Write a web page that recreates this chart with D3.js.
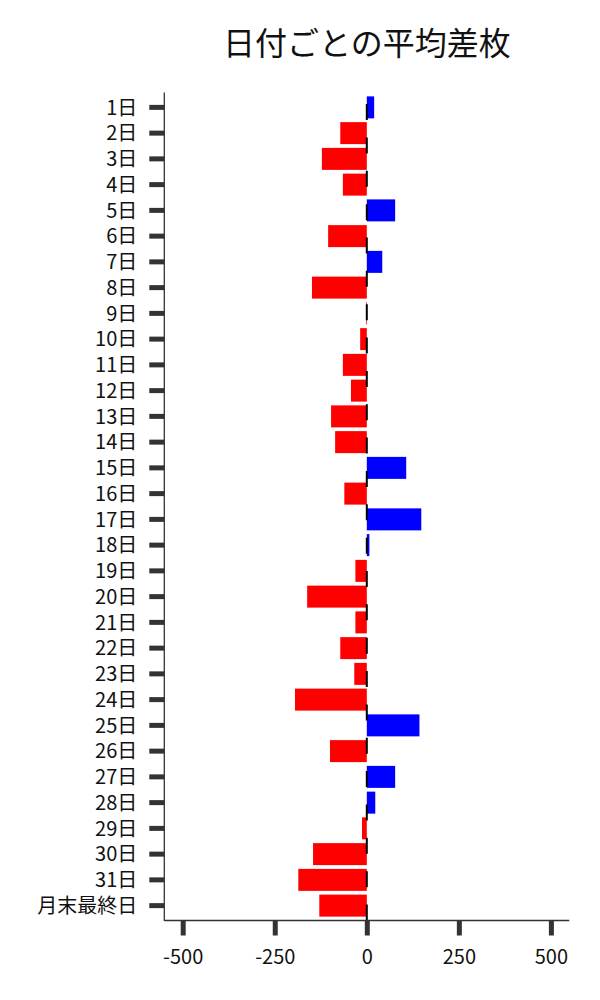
<!DOCTYPE html>
<html>
<head>
<meta charset="utf-8">
<script src="https://cdn.jsdelivr.net/npm/d3@7"></script>
<style>
  body { margin: 0; background: #fff; }
  text { font-family: "Noto Sans CJK JP", "Noto Sans", sans-serif; }
</style>
</head>
<body>
<script>
var days = ["1日", "2日", "3日", "4日", "5日", "6日", "7日", "8日", "9日", "10日",
            "11日", "12日", "13日", "14日", "15日", "16日", "17日", "18日", "19日", "20日",
            "21日", "22日", "23日", "24日", "25日", "26日", "27日", "28日", "29日", "30日",
            "31日", "月末最終日"];
var diffs = [20, -72, -122, -65, 77, -105, 42, -149, -2, -18,
             -65, -43, -97, -86, 107, -61, 148, 7, -31, -162,
             -31, -72, -34, -195, 143, -100, 77, 23, -13, -146,
             -186, -129];
var xTicks = [-500, -250, 0, 250, 500];

var w = 600, h = 1000;
var plotLeft = 164.3, plotRight = 569.3, plotTop = 92.5, plotBottom = 920.5;

var svg = d3.select("body")
            .append("svg")
            .attr("width", w)
            .attr("height", h);

var x = d3.scaleLinear().domain([-550, 550]).range([plotLeft, plotRight]);
var y = d3.scaleBand().domain(days).range([94.5, 918.5])
          .paddingInner(0.146).paddingOuter(0.073);

// bars
svg.selectAll("rect.bar")
    .data(days)
    .enter()
    .append("rect")
    .attr("class", "bar")
    .attr("x", function(d, i) { return x(Math.min(0, diffs[i])); })
    .attr("width", function(d, i) { return Math.abs(x(diffs[i]) - x(0)); })
    .attr("y", function(d) { return y(d); })
    .attr("height", y.bandwidth())
    .style("fill", function(d, i) { return diffs[i] >= 0 ? "#0000ff" : "#ff0000"; });

// dashed zero line, drawn bottom to top
svg.append("line")
    .attr("x1", x(0)).attr("x2", x(0))
    .attr("y1", plotBottom).attr("y2", plotTop)
    .attr("stroke", "#000")
    .attr("stroke-width", 2)
    .attr("stroke-dasharray", "16,17.35");

// y axis
var yAxis = svg.append("g")
    .attr("transform", "translate(" + plotLeft + ",0)")
    .call(d3.axisLeft(y).tickSize(15).tickPadding(12));
yAxis.select(".domain").remove();
yAxis.selectAll(".tick line").attr("stroke", "#333").attr("stroke-width", 5);
yAxis.selectAll(".tick text")
    .attr("fill", "#111")
    .style("font-size", "20px")
    .attr("dy", "0.36em");

// x axis
var xAxis = svg.append("g")
    .attr("transform", "translate(0," + plotBottom + ")")
    .call(d3.axisBottom(x).tickValues(xTicks).tickSize(15).tickPadding(14)
            .tickFormat(d3.format("d")));
xAxis.select(".domain").remove();
xAxis.selectAll(".tick line").attr("stroke", "#333").attr("stroke-width", 5);
xAxis.selectAll(".tick text")
    .attr("fill", "#111")
    .style("font-size", "20px")
    .text(function(d) { return d < 0 ? "-" + Math.abs(d) : d; });

// spines
svg.append("line")
    .attr("x1", plotLeft).attr("x2", plotLeft)
    .attr("y1", plotTop).attr("y2", plotBottom + 0.6)
    .attr("stroke", "#333").attr("stroke-width", 1.3);
svg.append("line")
    .attr("x1", plotLeft).attr("x2", plotRight)
    .attr("y1", plotBottom).attr("y2", plotBottom)
    .attr("stroke", "#333").attr("stroke-width", 1.3);

// title
svg.append("text")
    .attr("x", (plotLeft + plotRight) / 2)
    .attr("y", 55)
    .attr("text-anchor", "middle")
    .style("font-size", "32px")
    .attr("fill", "#111")
    .text("日付ごとの平均差枚");
</script>
</body>
</html>
